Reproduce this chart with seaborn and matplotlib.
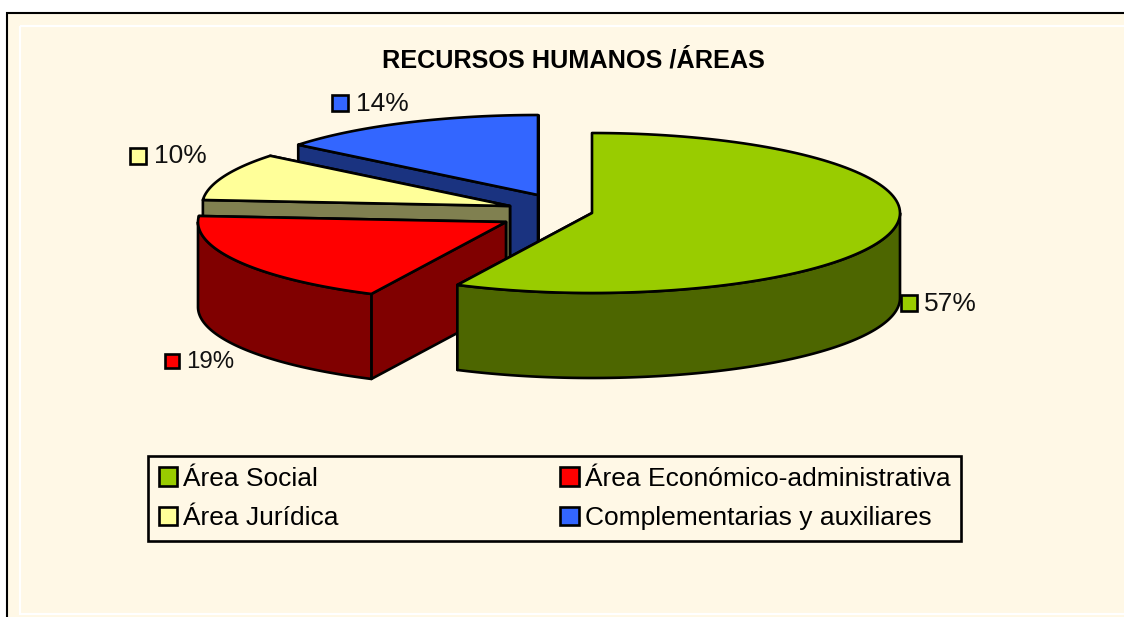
import numpy as np
import matplotlib
matplotlib.use("Agg")
import matplotlib.pyplot as plt
from matplotlib.patches import Patch, Polygon, Rectangle
import seaborn as sns

title = "RECURSOS HUMANOS /ÁREAS"
areas = ["Área Social", "Área Económico-administrativa", "Área Jurídica", "Complementarias y auxiliares"]
shares = [57.2, 19.0, 9.6, 14.2]
share_labels = ["57%", "19%", "10%", "14%"]
top_colors = ["#99CC00", "#FF0000", "#FFFF99", "#3366FF"]
wall_colors = ["#4D6600", "#800000", "#808050", "#1A3380"]

# pie geometry in image pixels
RX, RY, DEPTH = 308, 80, 85
centers = [(592, 213), (506, 222), (510, 206), (538, 195)]
draw_order = [3, 2, 1, 0]

# marker box (x, y, size) and text x for each value label
label_boxes = [(901, 295, 16, 924, 304), (165, 354, 14, 186, 362), (130, 148, 16, 154, 156), (332, 95, 16, 356, 104)]
label_sizes = [19, 17.3, 19, 19]

LW = 1.9


def arc(cx, cy, a0, a1):
    t = np.radians(np.linspace(a0, a1, 120))
    return np.column_stack([cx + RX * np.cos(t), cy - RY * np.sin(t)])


def down(points):
    return points + np.array([0, DEPTH])


def draw_slice(ax, i, a0, a1):
    cx, cy = centers[i]
    rim = arc(cx, cy, a0, a1)
    tip = np.array([[cx, cy]])
    kw = dict(edgecolor="black", linewidth=LW, joinstyle="round")

    # radial walls, the one further back goes first
    walls = sorted([rim[0], rim[-1]], key=lambda p: p[1])
    for p in walls:
        side = np.vstack([tip, [p], down(np.array([p])), down(tip)])
        ax.add_patch(Polygon(side, facecolor=wall_colors[i], **kw))

    # outer wall, only the front half of the rim shows
    lo, hi = min(a0, a1), max(a0, a1)
    for start, stop in [(-180, 0), (180, 360), (-540, -360)]:
        s, e = max(lo, start), min(hi, stop)
        if e > s:
            front = arc(cx, cy, s, e)
            ax.add_patch(Polygon(np.vstack([front, down(front)[::-1]]), facecolor=wall_colors[i], **kw))

    ax.add_patch(Polygon(np.vstack([tip, rim]), facecolor=top_colors[i], **kw))


sns.set_theme(style="white", rc={"axes.facecolor": "#FFF8E6"})
plt.rcParams["font.family"] = ["Liberation Sans", "DejaVu Sans"]

fig = plt.figure(figsize=(11.24, 6.17), dpi=100, facecolor="white")
ax = fig.add_axes([0, 0, 1, 1])
ax.set_xlim(0, 1124)
ax.set_ylim(617, 0)
ax.axis("off")

# chart area: black frame on two sides, thin white rule inside
ax.add_patch(Rectangle((7, 13), 1130, 620, facecolor="#FFF8E6", edgecolor="black", linewidth=1.5))
ax.add_patch(Rectangle((20, 26), 1130, 588, facecolor="none", edgecolor="white", linewidth=1.5))

ax.text(573, 60.5, title, fontsize=18.2, fontweight="bold", ha="center", va="center", color="black")

# slices run clockwise from 12 o'clock
edges = 90 - 360 * np.cumsum([0] + shares) / sum(shares)
for i in draw_order:
    draw_slice(ax, i, edges[i], edges[i + 1])

for i, (x, y, size, tx, ty) in enumerate(label_boxes):
    ax.add_patch(Rectangle((x, y), size, size, facecolor=top_colors[i], edgecolor="black", linewidth=LW))
    ax.text(tx, ty, share_labels[i], fontsize=label_sizes[i], va="center", ha="left", color="#111111")

# legend fills by column, the reference reads by row
order = [0, 2, 1, 3]
handles = [Patch(facecolor=top_colors[i], edgecolor="black", linewidth=LW) for i in order]
leg = ax.legend(
    handles, [areas[i] for i in order], ncol=2, loc="upper left",
    bbox_to_anchor=(148 / 1124, 1 - 456 / 617), frameon=True, fancybox=False,
    framealpha=1, facecolor="#FFF8E6", edgecolor="black", labelcolor="black",
    fontsize=19, borderaxespad=0, borderpad=0.4, handlelength=0.7, handleheight=0.7,
    handletextpad=0.23, labelspacing=0.6, columnspacing=8.4,
)
leg.get_frame().set_linewidth(LW)

fig.savefig("out.png", dpi=100)
